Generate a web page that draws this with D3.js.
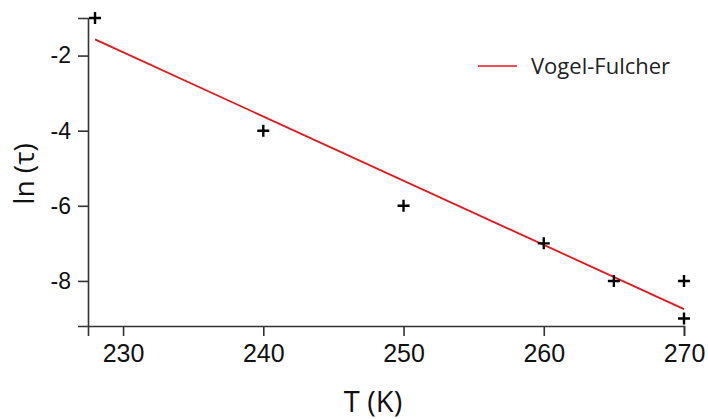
<!DOCTYPE html>
<html>
<head>
<meta charset="utf-8">
<script src="https://cdn.jsdelivr.net/npm/d3@7"></script>
<style>
  body { margin: 0; background: #fff; }
  .axis text { font-family: "Liberation Sans", Arial, sans-serif; fill: #111; }
  .xaxis text { font-size: 25px; }
  .yaxis text { font-size: 23px; }
  .axis path, .axis line { stroke: #333; stroke-width: 1.6px; }
</style>
</head>
<body>
<svg id="chart" width="708" height="419"></svg>
<script>
// measured points
let tempK = [228, 240, 250, 260, 265, 270, 270];
let lnTau = [-1, -4, -6, -7, -8, -8, -9];

// Vogel-Fulcher fit, end points
let fitT = [228, 270];
let fitLn = [-1.57, -8.75];

let xTicks = [230, 240, 250, 260, 270];
let yTicks = [-2, -4, -6, -8];

let svg = d3.select('#chart');

let plotLeft = 88, plotRight = 684, plotTop = 18, plotBottom = 326;

let xScale = d3.scaleLinear().domain([227.5, 270]).range([plotLeft, plotRight]);
let yScale = d3.scaleLinear().domain([-9.2, -1]).range([plotBottom, plotTop]);

// axes
let xAxis = d3.axisBottom(xScale).tickValues(xTicks).tickSizeOuter(0).tickSize(10).tickPadding(8);
svg.append('g')
    .attr('class', 'axis xaxis')
    .attr('transform', 'translate(0,' + plotBottom + ')')
    .call(xAxis);

let yAxis = d3.axisLeft(yScale).tickValues(yTicks).tickSizeOuter(0).tickSize(10).tickPadding(7)
    .tickFormat(d => d);
svg.append('g')
    .attr('class', 'axis yaxis')
    .attr('transform', 'translate(' + plotLeft + ',0)')
    .call(yAxis);

// fit line
let fitData = fitT.map((t, i) => ({t: t, v: fitLn[i]}));
svg.append('path')
    .datum(fitData)
    .attr('fill', 'none')
    .attr('stroke', '#e8141b')
    .attr('stroke-width', 1.8)
    .attr('d', d3.line().x(d => xScale(d.t)).y(d => yScale(d.v)));

// cross markers
let pts = tempK.map((t, i) => ({t: t, v: lnTau[i]}));
svg.append('g').selectAll('path')
    .data(pts)
    .enter()
    .append('path')
    .attr('transform', d => 'translate(' + xScale(d.t) + ',' + yScale(d.v) + ')')
    .attr('d', 'M-6,0H6M0,-6V6')
    .attr('stroke', '#000')
    .attr('stroke-width', 2.4);

// legend
svg.append('line')
    .attr('x1', 478).attr('x2', 517)
    .attr('y1', 66).attr('y2', 66)
    .attr('stroke', '#e8141b')
    .attr('stroke-width', 1.4);
svg.append('text')
    .attr('x', 531).attr('y', 74)
    .style('font-family', '"Open Sans", sans-serif')
    .style('font-size', '22px')
    .attr('fill', '#222')
    .text('Vogel-Fulcher');

// axis titles
svg.append('text')
    .attr('x', 373).attr('y', 412)
    .attr('text-anchor', 'middle')
    .style('font-family', '"Open Sans", sans-serif')
    .style('font-size', '29px')
    .attr('fill', '#111')
    .text('T (K)');

svg.append('text')
    .attr('transform', 'translate(34,174) rotate(-90)')
    .attr('text-anchor', 'middle')
    .style('font-family', '"Open Sans", sans-serif')
    .style('font-size', '28px')
    .attr('fill', '#111')
    .text('ln (τ)');
</script>
</body>
</html>
